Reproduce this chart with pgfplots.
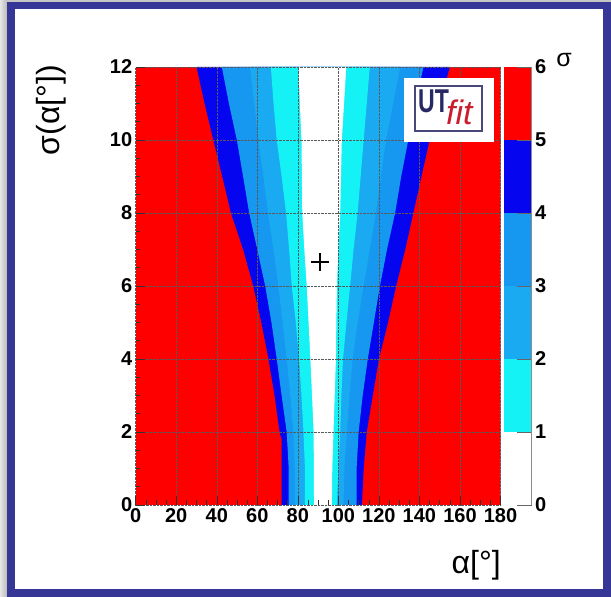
\documentclass[border=0pt]{standalone}
\usepackage{pgfplots}
\pgfplotsset{compat=1.18}
\usepackage{fontspec}
\setmainfont{Liberation Sans}
\definecolor{frameblue}{RGB}{54,54,150}
\definecolor{hred}{RGB}{255,0,0}
\definecolor{hblue}{RGB}{5,5,240}
\definecolor{hlb}{RGB}{22,152,240}
\definecolor{hlc}{RGB}{26,170,242}
\definecolor{hcyan}{RGB}{20,242,245}
\definecolor{utnavy}{RGB}{40,40,100}
\definecolor{utred}{RGB}{200,30,45}
\begin{document}
\begin{tikzpicture}[x=1pt,y=1pt]
\path[use as bounding box] (0,0) rectangle (611,597);
\shade[left color=gray!20, right color=gray!60] (0,0) rectangle (8,597);
\fill[gray!45] (7,595) rectangle (611,597);
\fill[frameblue] (7,0) rectangle (611,595);
\fill[white] (15,8) rectangle (603,588);

\begin{axis}[at={(135.7pt,92pt)}, anchor=south west, scale only axis,
  width=364.8pt, height=438pt,
  xmin=0, xmax=180, ymin=0, ymax=12,
  xtick={0,20,...,180}, ytick={0,2,...,12}, minor tick num=3,
  tick pos=left, tick align=inside,
  major tick length=9pt, minor tick length=4.5pt,
  tick style={black!80, line width=0.5pt},
  axis line style={draw=none},
  grid=major, major grid style={densely dotted, black!65, line width=0.45pt},
  axis on top,
  ticklabel style={font=\bfseries\fontsize{20}{20}\selectfont},
  /pgf/number format/assume math mode=true]
% level >= 5 (everything)
\addplot[fill=hred, draw=none] coordinates {(0,0)(180,0)(180,12)(0,12)};
% sigma < 5
\addplot[fill=hblue, draw=none] coordinates {
(72,0)(72,1.8)(71,2)(68.5,3)(65.5,4)(62,5)(58,6)(53,7)(47,8)(42.7,9)(38.3,10)(34,11)(30,12)
(155,12)(150,11)(145,10)(141,9)(137,8)(133,7)(128.5,6)(124.5,5)(120,4)(117,3)(114,2)(112.5,1)(111.6,0)};
% sigma < 4
\addplot[fill=hlb, draw=none] coordinates {
(75.5,0)(75.5,1)(74.5,2)(72,3)(69.6,4)(67,5)(63.9,6)(60,7)(56,8)(53,9)(49.9,10)(46,11)(42.5,12)
(142,12)(138,11)(134.5,10)(131,9)(128,8)(124,7)(120.5,6)(117.5,5)(114.5,4)(112,3)(110,2)(109,1)(109,0)};
% sigma < 3
\addplot[fill=hlc, draw=none] coordinates {
(78.5,0)(78.5,1)(77.8,2)(76.3,3)(74.5,4)(72.5,5)(70.4,6)(68,7)(65.3,8)(63,9)(60.5,10)(58.5,11)(56.4,12)
(130.5,12)(127,11)(123.5,10)(121,9)(118.5,8)(115.5,7)(112.4,6)(109.5,5)(107,4)(105.5,3)(104.2,2)(103,1)(102.5,0)};
% sigma < 2
\addplot[fill=hcyan, draw=none] coordinates {
(83.5,0)(83.5,1)(82.8,2)(81.8,3)(80.6,4)(79,5)(77,6)(75.7,7)(74.2,8)(72,9)(69.6,10)(68,11)(66.7,12)
(115.5,12)(114,11)(112.5,10)(111,9)(109.5,8)(107.5,7)(105.8,6)(104,5)(102.3,4)(101.5,3)(100.9,2)(100,1)(99.3,0)};
% sigma < 1
\addplot[fill=white, draw=none] coordinates {
(88,0)(87.8,2)(87,3)(86.2,4)(85.3,5)(84.4,6)(83.2,7)(82.2,8)(82,9)(81.8,10)(81,11)(80.3,12)
(103.9,12)(102.8,11)(101.7,10)(101.3,9)(100.9,8)(100,7)(99.3,6)(99,5)(98.8,4)(98.2,3)(97.6,2)(97,1)(96.8,0)};
\addplot[only marks, mark=+, mark size=9, line width=2pt, black] coordinates {(91,6.65)};
\end{axis}

\begin{axis}[at={(504pt,92pt)}, anchor=south west, scale only axis,
  width=27.5pt, height=438pt,
  xmin=0, xmax=1, ymin=0, ymax=6,
  axis x line=none, axis y line*=right,
  ytick={0,...,6}, tick align=inside, major tick length=15pt,
  y axis line style={black!45, line width=0.6pt},
  ytick style={black!60, line width=0.6pt},
  axis on top,
  ticklabel style={font=\bfseries\fontsize{20}{20}\selectfont},
  /pgf/number format/assume math mode=true]
\addplot[fill=hred, draw=none] coordinates {(0,5)(1,5)(1,6)(0,6)};
\addplot[fill=hblue, draw=none] coordinates {(0,4)(1,4)(1,5)(0,5)};
\addplot[fill=hlb, draw=none] coordinates {(0,3)(1,3)(1,4)(0,4)};
\addplot[fill=hlc, draw=none] coordinates {(0,2)(1,2)(1,3)(0,3)};
\addplot[fill=hcyan, draw=none] coordinates {(0,1)(1,1)(1,2)(0,2)};
\end{axis}

% logo
\fill[white] (404,455) rectangle (494,519);
\draw[utnavy!85, line width=1.2pt] (415,466) rectangle (482,511);
\node[anchor=base west, text=utnavy, font=\bfseries\fontsize{33}{33}\selectfont, inner sep=0] at (418,484) {\scalebox{0.7}[1]{UT}};
\node[anchor=base west, text=utred, font=\itshape\fontsize{34}{34}\selectfont, inner sep=0] at (446,472) {fit};

% labels
\node[rotate=90, anchor=east, font=\fontsize{32}{32}\selectfont, inner sep=0] at (51,532) {σ(α[°])};
\node[anchor=east, font=\fontsize{32}{32}\selectfont, inner sep=0] at (501,32) {α[°]};
\node[font=\fontsize{25}{25}\selectfont, inner sep=0] at (564,537) {σ};
\end{tikzpicture}
\end{document}
